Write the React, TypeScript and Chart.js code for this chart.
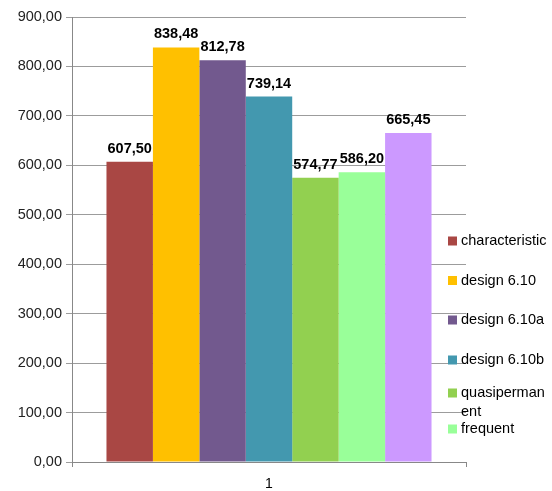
import React, { useEffect, useRef } from "react";
import { Chart, registerables } from "chart.js";

Chart.register(...registerables);

const categories = ["1"];
const seriesNames = [
  "characteristic",
  "design 6.10",
  "design 6.10a",
  "design 6.10b",
  "quasipermanent",
  "frequent",
  "frequent (2)",
];
const seriesValues = [607.5, 838.48, 812.78, 739.14, 574.77, 586.2, 665.45];
const seriesColors = [
  "#A94744",
  "#FFC000",
  "#72598E",
  "#4398AF",
  "#92D050",
  "#99FF99",
  "#CC99FF",
];
// legend lines as shown (last series clipped out of the legend box)
const legendLines = [
  ["characteristic"],
  ["design 6.10"],
  ["design 6.10a"],
  ["design 6.10b"],
  ["quasiperman", "ent"],
  ["frequent"],
];
const legendY = [241, 280.5, 320, 360, 393, 429];

const FONT = "'Liberation Sans', Arial, sans-serif";

const fmt = (v: number) => v.toFixed(2).replace(".", ",");

const labelPlugin = {
  id: "barLabels",
  afterDatasetsDraw(chart: any) {
    const ctx = chart.ctx;
    ctx.save();
    ctx.font = `bold 14.5px ${FONT}`;
    ctx.fillStyle = "#000";
    ctx.textAlign = "center";
    ctx.textBaseline = "alphabetic";
    chart.data.datasets.forEach((ds: any, i: number) => {
      const meta = chart.getDatasetMeta(i);
      meta.data.forEach((el: any, j: number) => {
        ctx.fillText(fmt(ds.data[j]), el.x, el.y - 9);
      });
    });
    ctx.restore();
  },
};

const legendPlugin = {
  id: "customLegend",
  afterDraw(chart: any) {
    const ctx = chart.ctx;
    ctx.save();
    ctx.font = `14.5px ${FONT}`;
    ctx.textBaseline = "middle";
    ctx.textAlign = "left";
    legendLines.forEach((lines, i) => {
      const y = legendY[i];
      ctx.fillStyle = seriesColors[i];
      ctx.fillRect(448, y - 4.5, 9, 9);
      ctx.fillStyle = "#000";
      lines.forEach((t, k) => {
        ctx.fillText(t, 461, y + k * 19);
      });
    });
    ctx.restore();
  },
};

export default function App() {
  const ref = useRef<HTMLCanvasElement>(null);
  useEffect(() => {
    const chart = new Chart(ref.current!, {
      type: "bar",
      data: {
        labels: categories,
        datasets: seriesNames.map((n, i) => ({
          label: n,
          data: [seriesValues[i]],
          backgroundColor: seriesColors[i],
          borderWidth: 0,
          categoryPercentage: 0.825,
          barPercentage: 1,
        })),
      },
      options: {
        animation: false,
        responsive: false,
        maintainAspectRatio: false,
        layout: { padding: { top: 17, right: 86, left: 0, bottom: 0 } },
        plugins: {
          legend: { display: false },
          tooltip: { enabled: false },
        },
        scales: {
          x: {
            grid: {
              display: true,
              drawOnChartArea: false,
              drawTicks: true,
              tickLength: 5,
              offset: true,
              color: "#888",
            },
            border: { display: true, color: "#888" },
            ticks: {
              color: "#000",
              font: { family: FONT, size: 14 },
              padding: 9,
            },
            afterFit: (s: any) => {
              s.height = 29;
            },
          },
          y: {
            min: 0,
            max: 900,
            grid: {
              color: "#9c9c9c",
              tickLength: 6,
            },
            border: { display: true, color: "#888" },
            ticks: {
              stepSize: 100,
              color: "#222",
              font: { family: FONT, size: 14.5 },
              padding: 4,
              callback: (v: any) => fmt(Number(v)),
            },
            afterFit: (s: any) => {
              s.width = 72;
            },
          },
        },
      },
      plugins: [labelPlugin, legendPlugin],
    });
    return () => chart.destroy();
  }, []);
  return (
    <div style={{ position: "absolute", left: 0, top: 0, width: 552, height: 491, background: "#fff" }}>
      <canvas ref={ref} width={552} height={491} style={{ display: "block" }} />
    </div>
  );
}
